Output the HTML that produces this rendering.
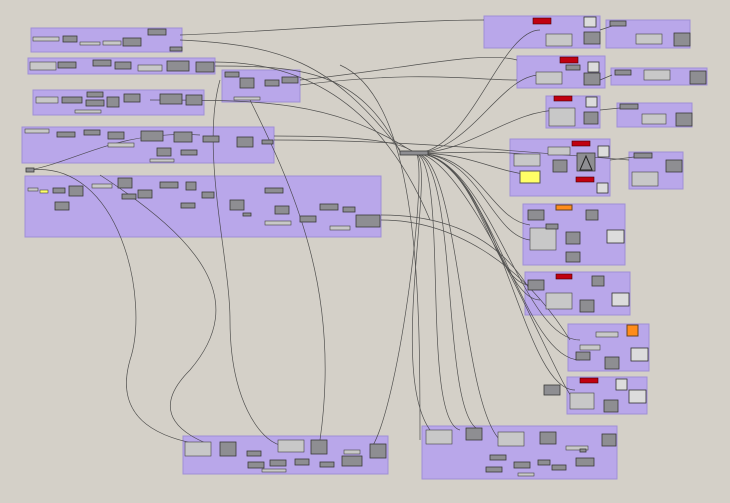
<!DOCTYPE html>
<html><head><meta charset="utf-8"><style>
html,body{margin:0;padding:0;background:#d4d0c8;width:730px;height:503px;overflow:hidden}
svg{display:block}
.g{fill:#b9a7ea;stroke:#a08fd6;stroke-width:1}
.c{fill:#8e8e92;stroke:#3a3a3a;stroke-width:.8}
.p{fill:#c8c8c8;stroke:#444;stroke-width:.6}
.r{fill:#c00010;stroke:#400;stroke-width:.6}
.w{fill:#dcdcdc;stroke:#333;stroke-width:.8}
.l{fill:none;stroke:#3b3b3b;stroke-width:.7;opacity:.85}
</style></head><body>
<svg width="730" height="503" viewBox="0 0 730 503">
<!-- groups -->
<rect class="g" x="31" y="28" width="151" height="24"/>
<rect class="g" x="28" y="58" width="187" height="16"/>
<rect class="g" x="222" y="70" width="78" height="32"/>
<rect class="g" x="33" y="90" width="171" height="25"/>
<rect class="g" x="22" y="127" width="252" height="36"/>
<rect class="g" x="25" y="176" width="356" height="61"/>
<rect class="g" x="484" y="16" width="116" height="32"/>
<rect class="g" x="606" y="20" width="84" height="28"/>
<rect class="g" x="517" y="56" width="88" height="32"/>
<rect class="g" x="611" y="68" width="96" height="17"/>
<rect class="g" x="546" y="96" width="54" height="32"/>
<rect class="g" x="617" y="103" width="75" height="24"/>
<rect class="g" x="510" y="139" width="100" height="57"/>
<rect class="g" x="629" y="152" width="54" height="37"/>
<rect class="g" x="523" y="204" width="102" height="61"/>
<rect class="g" x="525" y="272" width="105" height="43"/>
<rect class="g" x="568" y="324" width="81" height="47"/>
<rect class="g" x="567" y="377" width="80" height="37"/>
<rect class="g" x="183" y="436" width="205" height="38"/>
<rect class="g" x="422" y="426" width="195" height="53"/>
<!-- wires -->
<g class="l">
<path d="M415 153 C470 153 500 30 540 30"/>
<path d="M415 153 C470 153 500 75 540 75"/>
<path d="M415 153 C470 153 510 110 560 110"/>
<path d="M415 153 C470 153 490 150 530 155"/>
<path d="M415 153 C470 153 490 170 530 175"/>
<path d="M415 153 C480 153 490 220 530 225"/>
<path d="M415 153 C480 153 490 235 530 240"/>
<path d="M415 153 C480 153 490 285 530 285"/>
<path d="M415 153 C480 153 500 300 540 300"/>
<path d="M415 153 C490 153 520 340 580 340"/>
<path d="M415 153 C490 153 520 360 580 360"/>
<path d="M415 153 C500 153 520 390 575 390"/>
<path d="M415 153 C470 153 560 395 575 400"/>
<path d="M415 153 C440 160 380 400 440 440"/>
<path d="M415 153 C450 160 420 420 460 430"/>
<path d="M415 153 C460 160 440 420 480 430"/>
<path d="M415 153 C460 153 460 400 500 440"/>
<path d="M415 153 C430 153 400 410 370 450"/>
<path d="M180 35 C300 30 400 20 484 20"/>
<path d="M180 40 C280 45 330 60 400 150"/>
<path d="M215 66 C300 66 360 70 400 152"/>
<path d="M215 62 C300 62 380 100 430 220"/>
<path d="M150 100 C260 100 330 100 410 150"/>
<path d="M274 136 C350 136 400 140 415 153"/>
<path d="M274 140 C400 140 500 150 629 160"/>
<path d="M381 215 C450 215 500 240 530 290"/>
<path d="M381 220 C450 220 520 260 570 340"/>
<path d="M300 80 C400 70 480 50 517 60"/>
<path d="M300 85 C420 70 470 80 517 80"/>
<path d="M30 170 C80 160 120 130 200 135"/>
<path d="M30 170 C120 160 150 300 130 360 C110 430 180 440 200 445"/>
<path d="M100 175 C200 240 250 300 190 370 C140 420 200 440 210 445"/>
<path d="M220 80 C200 150 230 260 230 320 C230 400 260 440 280 445"/>
<path d="M250 100 C300 200 340 300 320 440"/>
<path d="M340 65 C420 100 420 300 420 440"/>
<path d="M600 30 L612 26"/>
<path d="M600 80 L612 75"/>
<path d="M600 110 L620 108"/>
<path d="M610 160 L634 157"/>
</g>
<!-- hub -->
<rect class="c" x="400" y="151" width="28" height="4" fill="#bba" />
<!-- components left -->
<g>
<rect class="p" x="33" y="37" width="26" height="4"/><rect class="c" x="63" y="36" width="14" height="6"/><rect class="p" x="80" y="42" width="20" height="3"/><rect class="p" x="103" y="41" width="18" height="4"/><rect class="c" x="123" y="38" width="18" height="8"/><rect class="c" x="148" y="29" width="18" height="6"/><rect class="c" x="170" y="47" width="12" height="4"/>
<rect class="p" x="30" y="62" width="26" height="8"/><rect class="c" x="58" y="62" width="18" height="6"/><rect class="c" x="93" y="60" width="18" height="6"/><rect class="c" x="115" y="62" width="16" height="7"/><rect class="p" x="138" y="65" width="24" height="6"/><rect class="c" x="167" y="61" width="22" height="10"/><rect class="c" x="196" y="62" width="18" height="10"/>
<rect class="c" x="225" y="72" width="14" height="5"/><rect class="c" x="240" y="78" width="14" height="10"/><rect class="c" x="265" y="80" width="14" height="6"/><rect class="c" x="282" y="77" width="16" height="6"/><rect class="p" x="234" y="97" width="26" height="3"/>
<rect class="p" x="36" y="97" width="22" height="6"/><rect class="c" x="62" y="97" width="20" height="6"/><rect class="c" x="87" y="92" width="16" height="5"/><rect class="c" x="86" y="100" width="18" height="6"/><rect class="c" x="107" y="97" width="12" height="10"/><rect class="c" x="124" y="94" width="16" height="8"/><rect class="c" x="160" y="94" width="22" height="10"/><rect class="c" x="186" y="95" width="16" height="10"/><rect class="p" x="75" y="110" width="26" height="3"/>
<rect class="p" x="25" y="129" width="24" height="4"/><rect class="c" x="57" y="132" width="18" height="5"/><rect class="c" x="84" y="130" width="16" height="5"/><rect class="c" x="108" y="132" width="16" height="7"/><rect class="p" x="108" y="143" width="26" height="4"/><rect class="c" x="141" y="131" width="22" height="10"/><rect class="c" x="174" y="132" width="18" height="10"/><rect class="c" x="157" y="148" width="14" height="8"/><rect class="c" x="181" y="150" width="16" height="5"/><rect class="c" x="203" y="136" width="16" height="6"/><rect class="c" x="237" y="137" width="16" height="10"/><rect class="c" x="262" y="140" width="11" height="4"/><rect class="p" x="150" y="159" width="24" height="3"/>
<rect class="c" x="26" y="168" width="8" height="4"/><rect class="p" x="28" y="188" width="10" height="3"/><rect class="p" x="40" y="190" width="8" height="3" style="fill:#ff6"/><rect class="c" x="53" y="188" width="12" height="5"/><rect class="c" x="69" y="186" width="14" height="10"/><rect class="c" x="55" y="202" width="14" height="8"/><rect class="p" x="92" y="184" width="20" height="4"/><rect class="c" x="118" y="178" width="14" height="10"/><rect class="c" x="122" y="194" width="14" height="5"/><rect class="c" x="138" y="190" width="14" height="8"/><rect class="c" x="160" y="182" width="18" height="6"/><rect class="c" x="186" y="182" width="10" height="8"/><rect class="c" x="181" y="203" width="14" height="5"/><rect class="c" x="202" y="192" width="12" height="6"/><rect class="c" x="230" y="200" width="14" height="10"/><rect class="c" x="265" y="188" width="18" height="5"/><rect class="c" x="275" y="206" width="14" height="8"/><rect class="p" x="265" y="221" width="26" height="4"/><rect class="c" x="300" y="216" width="16" height="6"/><rect class="c" x="320" y="204" width="18" height="6"/><rect class="c" x="343" y="207" width="12" height="5"/><rect class="p" x="330" y="226" width="20" height="4"/><rect class="c" x="356" y="215" width="24" height="12"/><rect class="c" x="243" y="213" width="8" height="3"/>
</g>
<!-- right components -->
<g>
<rect class="r" x="533" y="18" width="18" height="6"/><rect class="w" x="584" y="17" width="12" height="10"/><rect class="p" x="546" y="34" width="26" height="12"/><rect class="c" x="584" y="32" width="16" height="12"/><rect class="c" x="610" y="21" width="16" height="5"/><rect class="p" x="636" y="34" width="26" height="10"/><rect class="c" x="674" y="33" width="16" height="13"/>
<rect class="r" x="560" y="57" width="18" height="6"/><rect class="w" x="588" y="62" width="11" height="10"/><rect class="p" x="536" y="72" width="26" height="12"/><rect class="c" x="584" y="73" width="16" height="12"/><rect class="c" x="566" y="65" width="14" height="5"/><rect class="c" x="615" y="70" width="16" height="5"/><rect class="p" x="644" y="70" width="26" height="10"/><rect class="c" x="690" y="71" width="16" height="13"/>
<rect class="r" x="554" y="96" width="18" height="5"/><rect class="w" x="586" y="97" width="11" height="10"/><rect class="p" x="549" y="108" width="26" height="18"/><rect class="c" x="584" y="112" width="14" height="12"/><rect class="c" x="620" y="104" width="18" height="5"/><rect class="p" x="642" y="114" width="24" height="10"/><rect class="c" x="676" y="113" width="16" height="13"/>
<rect class="r" x="572" y="141" width="18" height="5"/><rect class="w" x="598" y="146" width="11" height="11"/><rect class="c" x="577" y="153" width="18" height="18"/><polygon points="580,170 586,156 592,170" fill="none" stroke="#222"/><rect x="520" y="171" width="20" height="12" fill="#ffff66" stroke="#555"/><rect class="c" x="553" y="160" width="14" height="12"/><rect class="p" x="514" y="154" width="26" height="12"/><rect class="r" x="576" y="177" width="18" height="5"/><rect class="w" x="597" y="183" width="11" height="10"/><rect class="p" x="548" y="147" width="22" height="8"/>
<rect class="c" x="634" y="153" width="18" height="5"/><rect class="p" x="632" y="172" width="26" height="14"/><rect class="c" x="666" y="160" width="16" height="12"/>
<rect x="556" y="205" width="16" height="5" fill="#ff8c1a" stroke="#642"/><rect class="c" x="528" y="210" width="16" height="10"/><rect class="c" x="586" y="210" width="12" height="10"/><rect class="p" x="530" y="228" width="26" height="22"/><rect class="c" x="566" y="232" width="14" height="12"/><rect class="w" x="607" y="230" width="17" height="13"/><rect class="c" x="566" y="252" width="14" height="10"/><rect class="c" x="546" y="224" width="12" height="5"/>
<rect class="r" x="556" y="274" width="16" height="5"/><rect class="c" x="528" y="280" width="16" height="10"/><rect class="c" x="592" y="276" width="12" height="10"/><rect class="p" x="546" y="293" width="26" height="16"/><rect class="c" x="580" y="300" width="14" height="12"/><rect class="w" x="612" y="293" width="17" height="13"/>
<rect x="627" y="325" width="11" height="11" fill="#ff8c1a" stroke="#642"/><rect class="p" x="596" y="332" width="22" height="5"/><rect class="c" x="576" y="352" width="14" height="8"/><rect class="c" x="605" y="357" width="14" height="12"/><rect class="w" x="631" y="348" width="17" height="13"/><rect class="p" x="580" y="345" width="20" height="5"/>
<rect class="r" x="580" y="378" width="18" height="5"/><rect class="w" x="616" y="379" width="11" height="11"/><rect class="c" x="544" y="385" width="16" height="10"/><rect class="p" x="570" y="393" width="24" height="16"/><rect class="c" x="604" y="400" width="14" height="12"/><rect class="w" x="629" y="390" width="17" height="13"/>
</g>
<!-- bottom -->
<g>
<rect class="p" x="185" y="442" width="26" height="14"/><rect class="c" x="220" y="442" width="16" height="14"/><rect class="c" x="247" y="451" width="14" height="5"/><rect class="p" x="278" y="440" width="26" height="12"/><rect class="c" x="311" y="440" width="16" height="14"/><rect class="c" x="248" y="462" width="16" height="6"/><rect class="c" x="270" y="460" width="16" height="6"/><rect class="c" x="295" y="459" width="14" height="6"/><rect class="c" x="320" y="462" width="14" height="5"/><rect class="c" x="342" y="456" width="20" height="10"/><rect class="c" x="370" y="444" width="16" height="14"/><rect class="p" x="262" y="469" width="24" height="3"/><rect class="p" x="344" y="450" width="16" height="4"/>
<rect class="p" x="426" y="430" width="26" height="14"/><rect class="c" x="466" y="428" width="16" height="12"/><rect class="p" x="498" y="432" width="26" height="14"/><rect class="c" x="540" y="432" width="16" height="12"/><rect class="c" x="602" y="434" width="14" height="12"/><rect class="p" x="566" y="446" width="22" height="4"/><rect class="c" x="490" y="455" width="16" height="5"/><rect class="c" x="514" y="462" width="16" height="6"/><rect class="c" x="538" y="460" width="12" height="5"/><rect class="c" x="552" y="465" width="14" height="5"/><rect class="c" x="576" y="458" width="18" height="8"/><rect class="c" x="486" y="467" width="16" height="5"/><rect class="p" x="518" y="473" width="16" height="3"/><rect class="c" x="580" y="449" width="6" height="3" fill="#111"/>
</g>
</svg>
</body></html>
